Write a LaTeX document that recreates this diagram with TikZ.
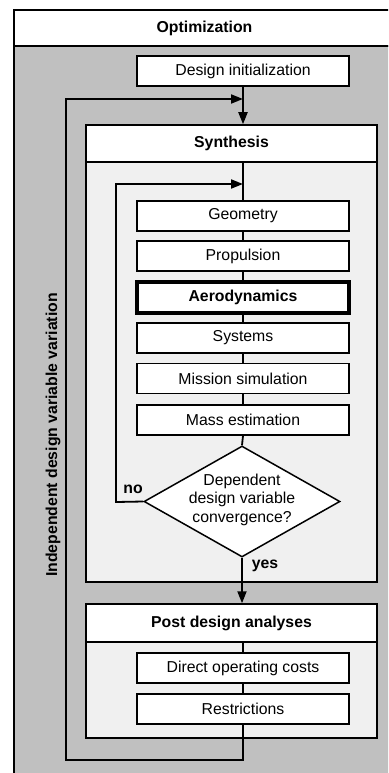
\documentclass[tikz,border=0pt]{standalone}
\usepackage{fontspec}
\setmainfont{Liberation Sans}
\usetikzlibrary{arrows.meta,shapes.geometric}
\definecolor{outergray}{HTML}{C0C0C0}
\definecolor{innergray}{HTML}{F0F0F0}
\begin{document}
\begin{tikzpicture}[x=1pt,y=-1pt,
  every node/.style={font=\fontsize{15.8}{18.5}\selectfont, inner sep=0pt},
  frame/.style={draw, line width=1.5pt},
  box/.style={frame, fill=white, minimum width=212pt, minimum height=30pt},
  hdr/.style={frame, fill=white, minimum width=291pt, font=\fontsize{15.8}{18.5}\selectfont\bfseries},
  body/.style={frame, fill=innergray, minimum width=291pt},
  conn/.style={line width=1.8pt},
  arr/.style={-{Triangle[length=12pt,width=9pt]}},
  lbl/.style={font=\fontsize{15.8}{18.5}\selectfont\bfseries}
]
\useasboundingbox (0,0) rectangle (388,773);
\clip (0,0) rectangle (388,773);

% outer optimization frame
\node[frame, fill=outergray, minimum width=381pt, minimum height=744pt] (optb) at (204.5,418) {};
\node[frame, fill=white, minimum width=381pt, minimum height=36pt, font=\fontsize{15.8}{18.5}\selectfont\bfseries] (opt) at (204.5,28) {Optimization};

\node[box] (di) at (243,71) {Design initialization};

% synthesis frame
\node[body, minimum height=420pt] (synb) at (231.5,372) {};
\node[hdr, minimum height=37pt] (syn) at (231.5,143.5) {Synthesis};

\node[box] (geo) at (243,216) {Geometry};
\node[box] (prop) at (243,256) {Propulsion};
\node[box, line width=3.5pt, minimum height=31pt, font=\fontsize{15.8}{18.5}\selectfont\bfseries] (aero) at (243,297.5) {Aerodynamics};
\node[box] (sys) at (243,338) {Systems};
\node[box] (miss) at (243,378.5) {Mission simulation};
\node[box] (mass) at (243,420) {Mass estimation};

\node[diamond, frame, fill=white, minimum width=196pt, minimum height=111pt] (conv) at (242,501.5) {};
\node[align=center] (convt) at (242,499.5) {Dependent\\design variable\\convergence?};

% post design frame
\node[body, minimum height=96pt] (postb) at (231.5,690) {};
\node[hdr, minimum height=38pt] (post) at (231.5,623) {Post design analyses};
\node[box] (doc) at (243,668) {Direct operating costs};
\node[box] (rest) at (243,709) {Restrictions};

% labels
\node[lbl] (no) at (133,489) {no};
\node[lbl] (yes) at (265,566) {yes};
\node[lbl, rotate=90] (iv) at (53,435) {Independent design variable variation};

% coordinates of loop corners
\coordinate (otr) at (243,99);
\coordinate (otl) at (66,99);
\coordinate (obl) at (66,760);
\coordinate (obr) at (243,760);
\coordinate (itr) at (243,184);
\coordinate (itl) at (116,184);
\coordinate (ibl) at (116,502);

% connectors
\draw[conn, arr] (di.south) -- (di.south |- syn.north);
\draw[conn, arr] (rest.south) -- (obr) -- (obl) -- (otl) -- (otr);
\draw[conn] (geo.north |- syn.south) -- (geo.north);
\draw[conn, arr] (conv.west) -- (ibl) -- (itl) -- (itr);
\draw[conn] (geo.south) -- (prop.north);
\draw[conn] (prop.south) -- (aero.north);
\draw[conn] (aero.south) -- (sys.north);
\draw[conn] (sys.south) -- (miss.north);
\draw[conn] (miss.south) -- (mass.north);
\draw[conn] (mass.south) -- (conv.north);
\draw[conn, arr] (conv.south) -- (conv.south |- post.north);
\draw[conn] (doc.north |- post.south) -- (doc.north);
\draw[conn] (doc.south) -- (rest.north);
\end{tikzpicture}
\end{document}
